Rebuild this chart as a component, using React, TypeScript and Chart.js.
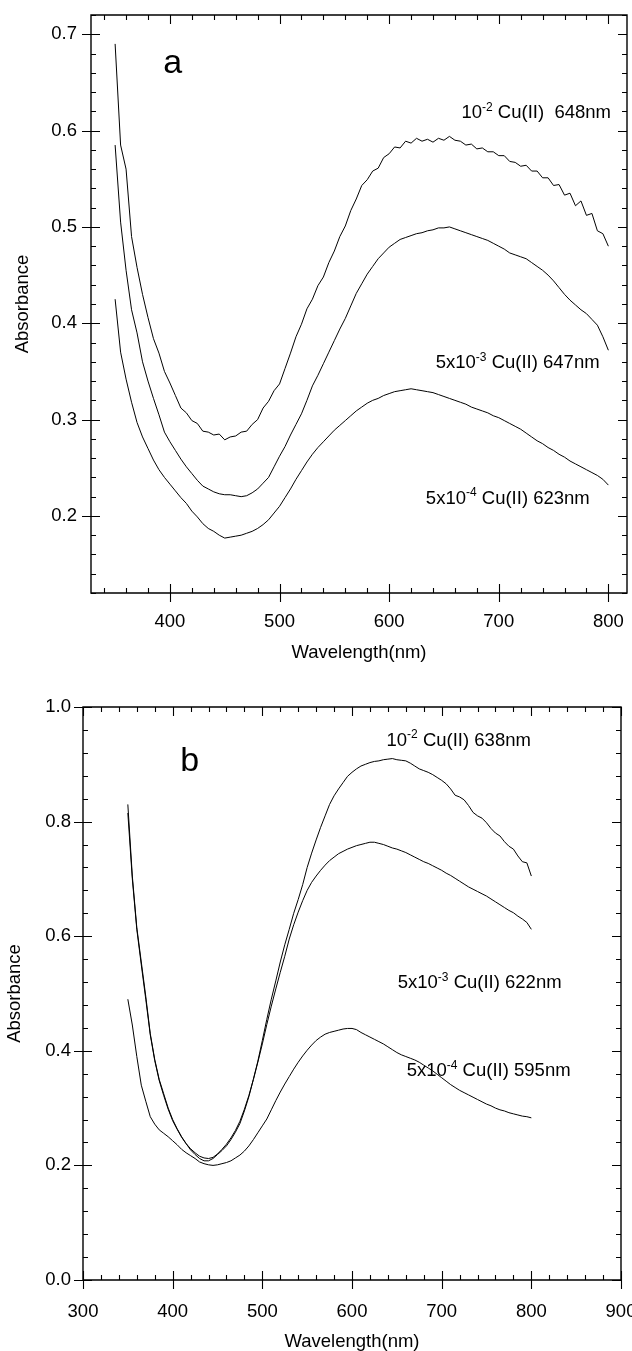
import React, { useEffect, useRef } from "react";
import { Chart, registerables } from "chart.js";

Chart.register(...registerables);

const FONT = "'Liberation Sans', Arial, Helvetica, sans-serif";

// Wavelength grid (nm)
const wavelength = [
  350, 355, 360, 365, 370, 375, 380, 385, 390, 395,
  400, 405, 410, 415, 420, 425, 430, 435, 440, 445,
  450, 455, 460, 465, 470, 475, 480, 485, 490, 495,
  500, 505, 510, 515, 520, 525, 530, 535, 540, 545,
  550, 555, 560, 565, 570, 575, 580, 585, 590, 595,
  600, 605, 610, 615, 620, 625, 630, 635, 640, 645,
  650, 655, 660, 665, 670, 675, 680, 685, 690, 695,
  700, 705, 710, 715, 720, 725, 730, 735, 740, 745,
  750, 755, 760, 765, 770, 775, 780, 785, 790, 795,
  800,
];

// Panel a
const panelA_1e2 = [
  0.690, 0.585, 0.560, 0.490, 0.458, 0.430, 0.406, 0.384, 0.369, 0.350,
  0.338, 0.325, 0.312, 0.307, 0.299, 0.296, 0.288, 0.287, 0.284, 0.285,
  0.279, 0.282, 0.283, 0.287, 0.288, 0.295, 0.300, 0.312, 0.319, 0.330,
  0.337, 0.353, 0.369, 0.386, 0.399, 0.415, 0.425, 0.439, 0.448, 0.463,
  0.475, 0.490, 0.501, 0.517, 0.529, 0.543, 0.549, 0.558, 0.561, 0.572,
  0.576, 0.583, 0.582, 0.589, 0.587, 0.592, 0.589, 0.591, 0.588, 0.592,
  0.590, 0.594, 0.590, 0.589, 0.585, 0.586, 0.581, 0.582, 0.578, 0.578,
  0.574, 0.574, 0.568, 0.567, 0.563, 0.564, 0.558, 0.558, 0.551, 0.551,
  0.543, 0.544, 0.533, 0.535, 0.522, 0.527, 0.512, 0.514, 0.496, 0.493,
  0.480,
];
const panelA_5e3 = [
  0.585, 0.505, 0.455, 0.414, 0.390, 0.360, 0.340, 0.322, 0.305, 0.287,
  0.277, 0.268, 0.259, 0.251, 0.244, 0.237, 0.231, 0.228, 0.225, 0.223,
  0.222, 0.222, 0.221, 0.220, 0.221, 0.224, 0.228, 0.234, 0.240, 0.251,
  0.262, 0.272, 0.284, 0.295, 0.306, 0.320, 0.335, 0.346, 0.358, 0.370,
  0.382, 0.394, 0.405, 0.418, 0.431, 0.441, 0.451, 0.459, 0.467, 0.473,
  0.479, 0.483, 0.487, 0.489, 0.491, 0.493, 0.494, 0.496, 0.497, 0.499,
  0.499, 0.500, 0.498, 0.496, 0.494, 0.492, 0.490, 0.488, 0.486, 0.483,
  0.480, 0.477, 0.473, 0.471, 0.469, 0.467, 0.463, 0.459, 0.455, 0.450,
  0.444, 0.437, 0.430, 0.424, 0.419, 0.414, 0.410, 0.404, 0.398, 0.386,
  0.372,
];
const panelA_5e4 = [
  0.425, 0.370, 0.342, 0.318, 0.297, 0.282, 0.270, 0.258, 0.248, 0.240,
  0.233, 0.226, 0.219, 0.213, 0.205, 0.199, 0.192, 0.187, 0.184, 0.180,
  0.177, 0.178, 0.179, 0.180, 0.182, 0.184, 0.187, 0.191, 0.196, 0.203,
  0.210, 0.219, 0.228, 0.238, 0.247, 0.256, 0.264, 0.271, 0.277, 0.283,
  0.289, 0.294, 0.299, 0.304, 0.309, 0.313, 0.317, 0.320, 0.322, 0.325,
  0.327, 0.329, 0.330, 0.331, 0.332, 0.331, 0.330, 0.329, 0.328, 0.326,
  0.324, 0.322, 0.320, 0.318, 0.316, 0.313, 0.311, 0.309, 0.307, 0.304,
  0.302, 0.299, 0.296, 0.293, 0.290, 0.286, 0.282, 0.278, 0.275, 0.271,
  0.268, 0.264, 0.261, 0.257, 0.254, 0.251, 0.248, 0.245, 0.242, 0.238,
  0.232,
];

// Panel b
const panelB_1e2 = [
  0.830, 0.705, 0.615, 0.555, 0.495, 0.430, 0.385, 0.350, 0.325, 0.300,
  0.280, 0.264, 0.250, 0.238, 0.227, 0.219, 0.212, 0.208, 0.208, 0.212,
  0.219, 0.226, 0.234, 0.245, 0.258, 0.273, 0.295, 0.320, 0.350, 0.382,
  0.418, 0.455, 0.490, 0.522, 0.555, 0.585, 0.612, 0.640, 0.664, 0.690,
  0.720, 0.745, 0.768, 0.790, 0.810, 0.830, 0.845, 0.857, 0.868, 0.879,
  0.886, 0.892, 0.897, 0.900, 0.903, 0.905, 0.906, 0.908, 0.909, 0.910,
  0.908, 0.907, 0.906, 0.902, 0.897, 0.892, 0.889, 0.886, 0.882, 0.877,
  0.872, 0.866, 0.857, 0.846, 0.843, 0.838, 0.828, 0.816, 0.810, 0.806,
  0.798, 0.788, 0.780, 0.775, 0.765, 0.757, 0.752, 0.740, 0.730, 0.728,
  0.705,
];
const panelB_5e3 = [
  0.815, 0.700, 0.612, 0.550, 0.490, 0.428, 0.383, 0.348, 0.322, 0.298,
  0.278, 0.263, 0.249, 0.238, 0.229, 0.222, 0.216, 0.213, 0.212, 0.214,
  0.220, 0.228, 0.237, 0.248, 0.261, 0.277, 0.298, 0.322, 0.350, 0.380,
  0.412, 0.446, 0.478, 0.508, 0.537, 0.565, 0.595, 0.620, 0.642, 0.662,
  0.680, 0.694, 0.705, 0.715, 0.724, 0.732, 0.738, 0.744, 0.748, 0.752,
  0.755, 0.758, 0.760, 0.762, 0.764, 0.764, 0.762, 0.760, 0.757, 0.754,
  0.752, 0.749, 0.746, 0.742, 0.738, 0.734, 0.730, 0.727, 0.723, 0.719,
  0.715, 0.710, 0.706, 0.701, 0.696, 0.691, 0.686, 0.682, 0.678, 0.674,
  0.670, 0.665, 0.660, 0.655, 0.650, 0.645, 0.641, 0.635, 0.630, 0.624,
  0.612,
];
const panelB_5e4 = [
  0.490, 0.445, 0.390, 0.340, 0.312, 0.285, 0.272, 0.262, 0.256, 0.250,
  0.243, 0.236, 0.228, 0.222, 0.217, 0.212, 0.206, 0.203, 0.201, 0.200,
  0.201, 0.203, 0.205, 0.208, 0.213, 0.218, 0.225, 0.234, 0.245, 0.257,
  0.269, 0.281, 0.297, 0.313, 0.328, 0.342, 0.355, 0.368, 0.380, 0.391,
  0.401, 0.410, 0.418, 0.424, 0.429, 0.432, 0.434, 0.436, 0.438, 0.439,
  0.439, 0.437, 0.432, 0.428, 0.424, 0.420, 0.416, 0.412, 0.407, 0.402,
  0.397, 0.393, 0.390, 0.387, 0.384, 0.380, 0.375, 0.370, 0.365, 0.359,
  0.353, 0.347, 0.341, 0.336, 0.331, 0.327, 0.323, 0.319, 0.315, 0.311,
  0.307, 0.304, 0.300, 0.297, 0.295, 0.292, 0.290, 0.288, 0.286, 0.285,
  0.283,
];

// Tick labels
const panelA_xTicks = [400, 500, 600, 700, 800];
const panelA_yTicks = [0.2, 0.3, 0.4, 0.5, 0.6, 0.7];
const panelB_xTicks = [300, 400, 500, 600, 700, 800, 900];
const panelB_yTicks = [0.0, 0.2, 0.4, 0.6, 0.8, 1.0];

const xTitle = "Wavelength(nm)";
const yTitle = "Absorbance";

type Part = [string, boolean];
type Label = { parts: Part[]; x: number; y: number };

const panelALabels: Label[] = [
  { parts: [["10", false], ["-2", true], [" Cu(II)  648nm", false]], x: 666, y: 0.6185 },
  { parts: [["5x10", false], ["-3", true], [" Cu(II) 647nm", false]], x: 642.5, y: 0.3589 },
  { parts: [["5x10", false], ["-4", true], [" Cu(II) 623nm", false]], x: 633.5, y: 0.2180 },
];
const panelBLabels: Label[] = [
  { parts: [["10", false], ["-2", true], [" Cu(II) 638nm", false]], x: 638.5, y: 0.9416 },
  { parts: [["5x10", false], ["-3", true], [" Cu(II) 622nm", false]], x: 651, y: 0.5179 },
  { parts: [["5x10", false], ["-4", true], [" Cu(II) 595nm", false]], x: 661, y: 0.3644 },
];

type PanelSpec = {
  series: number[][];
  labels: Label[];
  xTicks: number[];
  yTicks: number[];
  letter: string;
  letterPos: [number, number];
  xMin: number; xMax: number; xStep: number; xMinorStep: number;
  yMin: number; yMax: number; yStep: number; yMinorStep: number;
  height: number;
  padding: { left: number; right: number; top: number; bottom: number };
  yWidth: number; xHeight: number;
  xTickPad: number; yTickPad: number;
  xTitlePad: number; xTitleLH: number; yTitlePad: number;
};

function drawRich(ctx: CanvasRenderingContext2D, x: number, y: number, parts: Part[], size: number) {
  let cx = x;
  ctx.textAlign = "left";
  ctx.textBaseline = "middle";
  for (const [t, sup] of parts) {
    const s = sup ? Math.round(size * 0.64) : size;
    ctx.font = `${s}px ${FONT}`;
    ctx.fillText(t, cx, sup ? y - size * 0.3 : y);
    cx += ctx.measureText(t).width;
  }
}

function isMultiple(v: number, step: number) {
  const r = v / step;
  return Math.abs(r - Math.round(r)) < 1e-6;
}

function makeFramePlugin(spec: PanelSpec) {
  return {
    id: "frameTicks",
    afterDatasetsDraw(chart: any) {
      const { ctx, chartArea: ca } = chart;
      const xs = chart.scales.x;
      const ys = chart.scales.y;
      const L = Math.round(ca.left), R = Math.round(ca.right);
      const T = Math.round(ca.top), B = Math.round(ca.bottom);
      const maj = 9, mnr = 5;
      ctx.save();
      ctx.strokeStyle = "#000";
      ctx.lineWidth = 1.4;
      ctx.beginPath();
      ctx.rect(L, T, R - L, B - T);
      ctx.stroke();
      ctx.lineWidth = 1.1;
      ctx.beginPath();
      const x0 = Math.ceil(spec.xMin / spec.xMinorStep) * spec.xMinorStep;
      for (let i = 0; ; i++) {
        const v = x0 + i * spec.xMinorStep;
        if (v > spec.xMax + 1e-9) break;
        const px = Math.round(xs.getPixelForValue(v)) + 0.5;
        if (px < L || px > R + 1) continue;
        if (isMultiple(v, spec.xStep)) {
          ctx.moveTo(px, B - maj); ctx.lineTo(px, B + maj);
          ctx.moveTo(px, T); ctx.lineTo(px, T + maj);
        } else {
          ctx.moveTo(px, B); ctx.lineTo(px, B - mnr);
          ctx.moveTo(px, T); ctx.lineTo(px, T + mnr);
        }
      }
      const y0 = Math.ceil(spec.yMin / spec.yMinorStep - 1e-9) * spec.yMinorStep;
      for (let i = 0; ; i++) {
        const v = y0 + i * spec.yMinorStep;
        if (v > spec.yMax + 1e-9) break;
        const py = Math.round(ys.getPixelForValue(v)) + 0.5;
        if (isMultiple(v, spec.yStep)) {
          ctx.moveTo(L - maj, py); ctx.lineTo(L + maj, py);
          ctx.moveTo(R, py); ctx.lineTo(R - maj, py);
        } else {
          ctx.moveTo(L, py); ctx.lineTo(L + mnr, py);
          ctx.moveTo(R, py); ctx.lineTo(R - mnr, py);
        }
      }
      ctx.stroke();

      ctx.fillStyle = "#000";
      for (const lb of spec.labels) {
        drawRich(ctx, xs.getPixelForValue(lb.x), ys.getPixelForValue(lb.y), lb.parts, 18.5);
      }
      ctx.font = `34px ${FONT}`;
      ctx.textAlign = "center";
      ctx.textBaseline = "alphabetic";
      ctx.fillText(spec.letter, xs.getPixelForValue(spec.letterPos[0]), ys.getPixelForValue(spec.letterPos[1]));
      ctx.restore();
    },
  };
}

function buildConfig(spec: PanelSpec): any {
  const tickFont = { family: FONT, size: 18.5 };
  return {
    type: "line",
    data: {
      datasets: spec.series.map((s) => ({
        data: wavelength.map((w, i) => ({ x: w, y: s[i] })),
        borderColor: "#000",
        borderWidth: 1,
        pointRadius: 0,
        fill: false,
        tension: 0,
      })),
    },
    options: {
      animation: false,
      responsive: false,
      devicePixelRatio: 1,
      layout: { padding: spec.padding },
      plugins: { legend: { display: false }, tooltip: { enabled: false } },
      scales: {
        x: {
          type: "linear",
          min: spec.xMin,
          max: spec.xMax,
          grid: { display: false, drawTicks: false },
          border: { display: false },
          ticks: {
            padding: spec.xTickPad,
            color: "#000",
            font: tickFont,
            maxRotation: 0,
            minRotation: 0,
            autoSkip: false,
            callback: (v: number) => String(Math.round(v)),
          },
          afterBuildTicks: (s: any) => {
            s.ticks = spec.xTicks.map((v) => ({ value: v }));
          },
          afterFit: (s: any) => {
            s.height = spec.xHeight;
            s.paddingLeft = 0;
            s.paddingRight = 0;
          },
          title: {
            display: true,
            text: xTitle,
            color: "#000",
            font: { family: FONT, size: 18.5, lineHeight: spec.xTitleLH },
            padding: { top: 0, bottom: spec.xTitlePad },
          },
        },
        y: {
          type: "linear",
          min: spec.yMin,
          max: spec.yMax,
          grid: { display: false, drawTicks: false },
          border: { display: false },
          ticks: {
            padding: spec.yTickPad,
            color: "#000",
            font: tickFont,
            autoSkip: false,
            callback: (v: number) => v.toFixed(1),
          },
          afterBuildTicks: (s: any) => {
            s.ticks = spec.yTicks.map((v) => ({ value: v }));
          },
          afterFit: (s: any) => {
            s.width = spec.yWidth;
            s.paddingTop = 0;
            s.paddingBottom = 0;
          },
          title: {
            display: true,
            text: yTitle,
            color: "#000",
            font: { family: FONT, size: 18.5, lineHeight: 1.2 },
            padding: { top: spec.yTitlePad, bottom: 0 },
          },
        },
      },
    },
    plugins: [makeFramePlugin(spec)],
  };
}

const specA: PanelSpec = {
  series: [panelA_1e2, panelA_5e3, panelA_5e4],
  labels: panelALabels,
  xTicks: panelA_xTicks,
  yTicks: panelA_yTicks,
  letter: "a",
  letterPos: [402.5, 0.6603],
  xMin: 328, xMax: 817, xStep: 100, xMinorStep: 20,
  yMin: 0.12, yMax: 0.72, yStep: 0.1, yMinorStep: 0.02,
  height: 680,
  padding: { left: 0, right: 5, top: 15, bottom: 0 },
  yWidth: 91, xHeight: 87,
  xTickPad: 18, yTickPad: 14,
  xTitlePad: 16, xTitleLH: 1.2, yTitlePad: 12,
};

const specB: PanelSpec = {
  series: [panelB_1e2, panelB_5e3, panelB_5e4],
  labels: panelBLabels,
  xTicks: panelB_xTicks,
  yTicks: panelB_yTicks,
  letter: "b",
  letterPos: [418.9, 0.889],
  xMin: 300, xMax: 900, xStep: 100, xMinorStep: 20,
  yMin: 0, yMax: 1.0, yStep: 0.2, yMinorStep: 0.04,
  height: 671,
  padding: { left: 0, right: 11, top: 27, bottom: 0 },
  yWidth: 83, xHeight: 71,
  xTickPad: 21, yTickPad: 12,
  xTitlePad: 0, xTitleLH: 1.0, yTitlePad: 4,
};

function Panel({ spec, top }: { spec: PanelSpec; top: number }) {
  const ref = useRef<HTMLCanvasElement | null>(null);
  useEffect(() => {
    if (!ref.current) return;
    const chart = new Chart(ref.current, buildConfig(spec));
    return () => chart.destroy();
  }, [spec]);
  return (
    <canvas
      ref={ref}
      width={632}
      height={spec.height}
      style={{ position: "absolute", left: 0, top, width: 632, height: spec.height, display: "block" }}
    />
  );
}

export default function App() {
  return (
    <div style={{ position: "absolute", left: 0, top: 0, width: 632, height: 1351, background: "#fff", overflow: "hidden" }}>
      <Panel spec={specA} top={0} />
      <Panel spec={specB} top={680} />
    </div>
  );
}
